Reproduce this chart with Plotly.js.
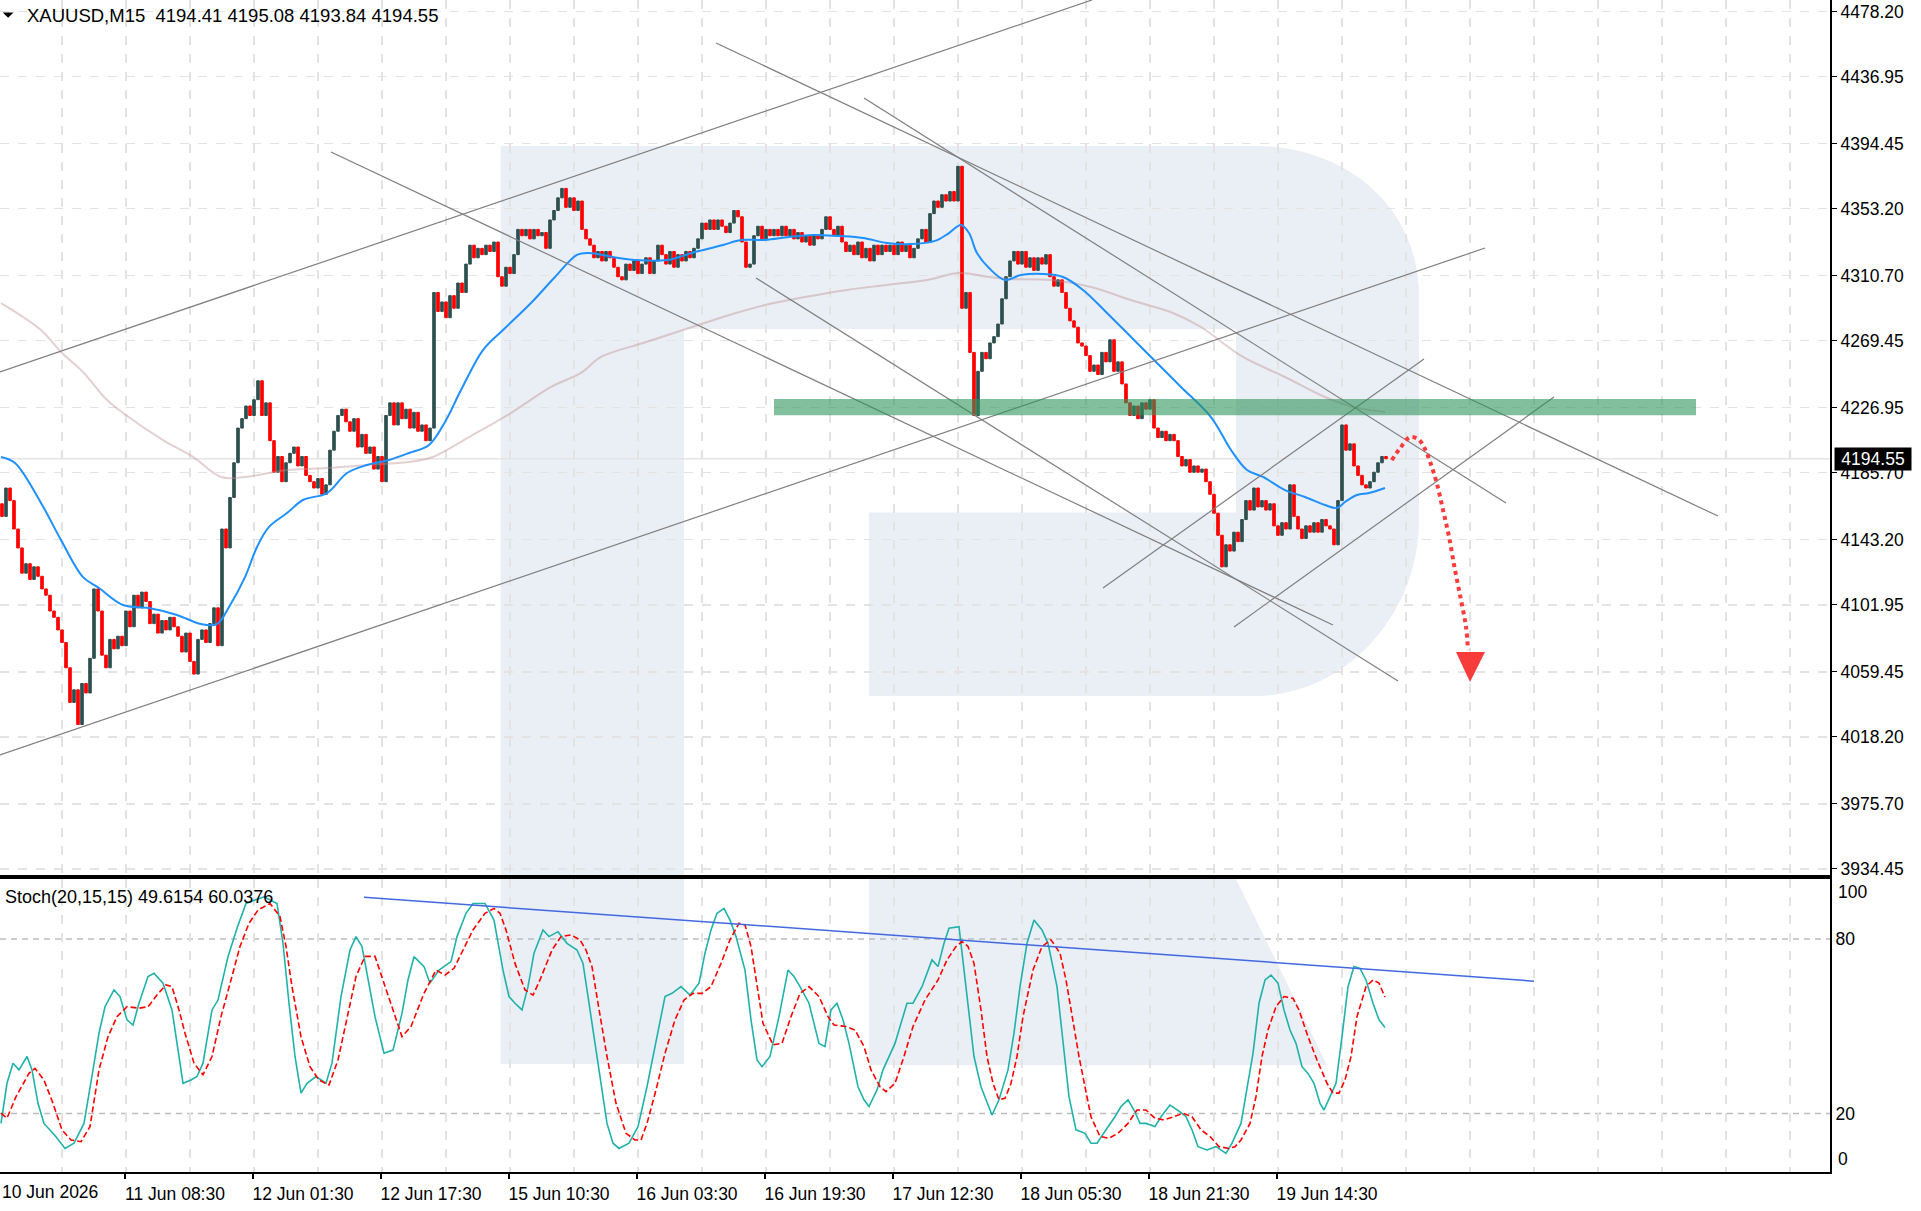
<!DOCTYPE html>
<html>
<head>
<meta charset="utf-8">
<script src="https://cdn.plot.ly/plotly-3.0.1.min.js"></script>
<style>
  html, body { margin: 0; padding: 0; background: #fff; overflow: hidden; }
  #chart { width: 1921px; height: 1211px; }
</style>
</head>
<body>
<div id="chart"></div>
<script>
/* XAUUSD M15 with a Stochastic pane, drawn the way the terminal shows it.
 * Every value below was read off the screenshot by eye; bars are counted in
 * 15-minute steps from the left edge (bar 0), each candle here covers 2 bars.
 */
(function () {
  "use strict";

  // ---- header / last values ----
  const SYMBOL = "XAUUSD,M15";
  const lastOHLC = [4194.41, 4195.08, 4193.84, 4194.55];
  const STOCH_NAME = "Stoch(20,15,15)";
  const stochLast = [49.6154, 60.0376];

  // ---- axes ----
  const priceTicks = [4478.20, 4436.95, 4394.45, 4353.20, 4310.70, 4269.45, 4226.95,
    4185.70, 4143.20, 4101.95, 4059.45, 4018.20, 3975.70, 3934.45];
  const FIRST_LABEL = "10 Jun 2026";
  const labelBars = [62, 126, 190, 254, 318, 382, 446, 510, 574, 638];
  const labelText = ["11 Jun 08:30", "12 Jun 01:30", "12 Jun 17:30", "15 Jun 10:30",
    "16 Jun 03:30", "16 Jun 19:30", "17 Jun 12:30", "18 Jun 05:30", "18 Jun 21:30",
    "19 Jun 14:30"];

  // ---- candles: closes, one per 2 bars; each open is the previous close ----
  const firstOpen = 4166;
  const closes = [
    4158, 4176, 4168, 4150, 4138, 4122, 4128, 4118, 4126, 4120,
    4112, 4108, 4098, 4094, 4086, 4078, 4062, 4040, 4048, 4026,
    4052, 4046, 4068, 4112, 4098, 4070, 4062, 4080, 4074, 4082,
    4076, 4098, 4088, 4108, 4100, 4110, 4104, 4090, 4096, 4084,
    4092, 4086, 4094, 4088, 4082, 4072, 4084, 4066, 4058, 4080,
    4086, 4078, 4090, 4100, 4076, 4150, 4138, 4170, 4192, 4214,
    4220, 4228, 4222, 4232, 4244, 4222, 4230, 4206, 4186, 4196,
    4180, 4192, 4198, 4202, 4190, 4196, 4184, 4180, 4176, 4182,
    4172, 4178, 4200, 4212, 4222, 4226, 4218, 4212, 4220, 4202,
    4210, 4198, 4202, 4188, 4196, 4180, 4222, 4230, 4216, 4230,
    4220, 4226, 4214, 4224, 4212, 4216, 4206, 4214, 4300, 4288,
    4294, 4284, 4298, 4290, 4306, 4300, 4318, 4330, 4322, 4328,
    4324, 4330, 4326, 4332, 4310, 4304, 4316, 4312, 4324, 4340,
    4336, 4340, 4334, 4340, 4336, 4338, 4328, 4346, 4352, 4360,
    4366, 4354, 4360, 4352, 4358, 4340, 4334, 4330, 4322, 4326,
    4320, 4326, 4322, 4316, 4310, 4308, 4318, 4314, 4320, 4312,
    4318, 4322, 4312, 4320, 4330, 4324, 4318, 4326, 4316, 4324,
    4320, 4326, 4322, 4328, 4334, 4344, 4340, 4346, 4340, 4346,
    4342, 4338, 4344, 4352, 4348, 4332, 4316, 4318, 4336, 4342,
    4334, 4340, 4336, 4340, 4336, 4342, 4336, 4340, 4334, 4338,
    4332, 4336, 4330, 4336, 4334, 4340, 4348, 4340, 4336, 4342,
    4332, 4326, 4330, 4324, 4332, 4322, 4328, 4320, 4330, 4324,
    4330, 4326, 4330, 4324, 4332, 4326, 4330, 4322, 4328, 4334,
    4340, 4332, 4350, 4358, 4354, 4362, 4358, 4364, 4358, 4380,
    4290, 4300, 4262, 4222, 4250, 4262, 4258, 4268, 4272, 4280,
    4296, 4310, 4320, 4326, 4318, 4326, 4316, 4322, 4314, 4322,
    4318, 4324, 4310, 4304, 4308, 4300, 4290, 4282, 4278, 4268,
    4266, 4260, 4250, 4254, 4248, 4262, 4256, 4270, 4250, 4256,
    4242, 4230, 4222, 4228, 4220, 4230, 4226, 4232, 4214, 4208,
    4212, 4206, 4210, 4206, 4196, 4190, 4194, 4186, 4190, 4186,
    4188, 4180, 4172, 4160, 4146, 4126, 4140, 4136, 4148, 4142,
    4156, 4168, 4162, 4176, 4164, 4168, 4162, 4166, 4152, 4146,
    4154, 4150, 4178, 4158, 4150, 4144, 4152, 4148, 4154, 4148,
    4156, 4152, 4150, 4140, 4168, 4216, 4200, 4204, 4190, 4184,
    4178, 4176, 4180, 4186, 4192, 4196, 4194.55
  ];

  // ---- moving averages ----
  const fastMaBars = [0, 7, 20, 30, 41, 49, 61, 74, 88, 100, 108, 114, 122, 128, 134, 143,
    151, 163, 173, 183, 194, 204, 214, 222, 230, 241, 251, 265, 277, 288, 294, 306, 317,
    333, 347, 361, 370, 382, 394, 406, 419, 431, 443, 455, 467, 474, 480, 484, 488, 494,
    502, 510, 521, 531, 541, 553, 565, 578, 590, 605, 615, 623, 631, 642, 652, 662, 668,
    672, 678, 684, 692];
  const fastMa = [4195.7, 4191.9, 4166.5, 4143.0, 4119.5, 4112.6, 4101.8, 4099.9, 4095.5,
    4089.7, 4089.7, 4100.5, 4119.5, 4138.6, 4151.3, 4160.1, 4168.4, 4172.8, 4185.5, 4190.6,
    4193.8, 4198.2, 4203.3, 4217.9, 4238.1, 4263.5, 4276.2, 4293.3, 4309.8, 4323.8, 4325.0,
    4322.5, 4320.6, 4320.6, 4325.7, 4330.1, 4333.3, 4333.3, 4335.2, 4336.5, 4335.8, 4334.6,
    4331.4, 4330.7, 4332.7, 4337.7, 4342.8, 4337.7, 4325.0, 4315.5, 4307.9, 4311.1, 4311.7,
    4309.8, 4301.6, 4287.0, 4271.8, 4255.3, 4240.1, 4221.0, 4200.1, 4187.4, 4183.0, 4174.7,
    4170.3, 4165.2, 4163.3, 4167.1, 4171.6, 4172.8, 4176.0];
  const slowMaBars = [0, 20, 30, 41, 53, 61, 81, 96, 110, 122, 143, 163, 183, 204, 216, 234,
    255, 275, 290, 300, 321, 341, 361, 382, 402, 423, 443, 463, 479, 494, 504, 525, 545,
    565, 586, 600, 607, 621, 642, 662, 676, 692];
  const slowMa = [4293.3, 4276.2, 4262.3, 4249.6, 4231.8, 4223.6, 4206.4, 4195.7, 4183.0,
    4183.0, 4187.4, 4188.7, 4190.6, 4192.5, 4195.7, 4208.3, 4223.6, 4240.1, 4249.0, 4259.1,
    4268.0, 4276.2, 4284.5, 4292.1, 4297.1, 4301.6, 4304.8, 4307.9, 4312.4, 4309.8, 4308.6,
    4307.9, 4303.5, 4295.2, 4287.0, 4278.1, 4271.8, 4259.1, 4246.4, 4233.7, 4227.4, 4224.2];

  // ---- drawn objects: [bar0, price0, bar1, price1] ----
  const trendLines = [
    [-0.5, 4249.6, 545.5, 4485.5],
    [-0.5, 4006.7, 742, 4328.2],
    [165, 4389.1, 666, 4089.1],
    [377.5, 4309.2, 698.5, 4053.6],
    [431.5, 4423.3, 752.5, 4166.5],
    [357.5, 4458.2, 858.5, 4158.2],
    [551, 4112.6, 711.5, 4257.8],
    [616.5, 4087.9, 776.5, 4233.7]
  ];
  const zoneBars = [386.5, 847.5];
  const zonePrices = [4222.2, 4232.4];
  const arrowBars = [695.4, 699.5, 704.5, 708.7, 711.8, 714.8, 717.9, 721, 724, 727, 730, 732.5, 733.5];
  const arrowPrices = [4193.7, 4201.2, 4208.2, 4206.9, 4201.2, 4191.7, 4179.0, 4162.1, 4145.1,
    4124.0, 4105.0, 4088.0, 4073.2];
  const headBars = [727.5, 742, 734.5];
  const headPrices = [4072.0, 4072.0, 4053.0];

  // ---- stochastic ----
  const kBars = [0, 3, 6, 9, 13, 15.5, 18.5, 21.5, 27.5, 32, 36.5, 41.5, 46, 49, 52, 56.5,
    59.5, 63, 66, 69, 73.5, 76.5, 81, 85.5, 89, 91, 95, 98, 101, 105.5, 108.5, 113.5, 118,
    122.5, 127, 131.5, 138, 141, 144, 147, 150, 153, 157.5, 162.5, 165.5, 170, 174.5, 177.5,
    180.5, 183.5, 187, 191.5, 196, 200.5, 203.5, 206.5, 211.5, 214.5, 219, 225, 228, 232.5,
    236, 242, 246.5, 251, 254, 257, 260.5, 263.5, 266.5, 271, 274, 278.5, 283, 288, 291,
    294, 297, 300, 303, 306, 309, 314, 318.5, 323, 327.5, 332, 335.5, 340, 344.5, 349, 352,
    355, 358, 361.5, 364.5, 367.5, 372, 375, 378, 380.5, 384.5, 389, 393.5, 396.5, 399.5,
    404, 409, 412, 415, 418, 421, 424, 428.5, 431.5, 434, 438, 441, 447, 450, 453, 456,
    460.5, 465.5, 468.5, 471.5, 474, 479, 480.5, 483.5, 486.5, 490, 493, 495.5, 499, 503.5,
    506.5, 509.5, 513, 516.5, 520.5, 523.5, 528, 531, 534, 537.5, 542, 545, 548, 552.5, 557,
    560, 563.5, 566.5, 569.5, 572.5, 577, 580, 584.5, 589.5, 592.5, 595.5, 598.5, 603,
    607.5, 612.5, 615.5, 620, 623, 626, 629, 632, 635, 638.5, 641.5, 644.5, 647.5, 650.5,
    653.5, 656.5, 659.5, 661.5, 664.5, 667.5, 670.5, 673.5, 676.5, 679.5, 682.5, 686, 689, 692];
  const kVals = [16.6, 30.4, 37.3, 35, 39.6, 35, 23.5, 16.6, 12, 8, 9.8, 16.6, 35, 47.6, 56.7,
    62.5, 60.2, 52.2, 50.4, 57.9, 67.1, 68.2, 64.8, 55.6, 39.6, 30.4, 31.5, 32.7, 37.3, 55.6,
    59, 73.9, 83.7, 92.2, 93.4, 94.5, 92.2, 78.5, 57.9, 39.6, 27, 30.4, 32.7, 30.4, 37.3,
    60.2, 76.2, 80.8, 77.4, 65.9, 53.3, 40.7, 41.8, 54.4, 65.9, 73.9, 70.5, 64.8, 69.3, 72.2,
    80.8, 88.8, 92.2, 92.2, 86.5, 69.3, 60.2, 57.9, 55.6, 63.6, 75.1, 83.1, 80.8, 82.5, 78.5,
    76.2, 71.6, 57.9, 44.1, 29.2, 16.6, 9.8, 8, 9.8, 15.5, 29.2, 44.1, 60.2, 61.3, 63.6, 60.7,
    64.8, 75.1, 83.1, 88.8, 90.5, 86.5, 80.8, 69.3, 52.2, 38.4, 36.1, 39.6, 53.3, 69.3, 67.1,
    63.6, 57.9, 44.1, 43, 55.6, 57.9, 52.2, 44.1, 29.2, 24.7, 22.4, 28.1, 35, 44.1, 51, 57.9,
    57.9, 63.6, 72.8, 70.5, 78.5, 83.7, 84.2, 75.1, 57.9, 39.6, 29.2, 23.5, 19.5, 24.7, 35,
    47.6, 63.6, 78.5, 86.5, 83.1, 78.5, 63.6, 44.1, 25.8, 14.4, 13.2, 9.8, 9.8, 14.4, 18.9,
    22.4, 24.7, 21.2, 16.6, 16.6, 15.5, 18.9, 22.9, 20.6, 18.9, 14.4, 8.6, 7.5, 8.6, 6.3,
    9.8, 16.6, 29.2, 40.7, 57.9, 65.9, 67.6, 64.8, 55.6, 48.7, 44.1, 36.1, 33.8, 30.4, 23.5,
    21.2, 25.8, 30.4, 46.4, 63.6, 70.5, 69.9, 65.9, 57.9, 52.2, 49.6];
  const dBars = [0, 3, 7.5, 14, 17, 21.5, 26, 30.5, 35, 40, 44.5, 49, 53.5, 58, 63, 69, 73.5,
    78, 82.5, 85.5, 89, 92, 96.5, 101, 105.5, 110, 115, 119.5, 124, 128.5, 134.5, 139.5,
    142.5, 145.5, 150, 154.5, 159, 164, 168.5, 173, 177.5, 182, 187, 191.5, 196, 200.5, 205,
    211.5, 217.5, 222, 226.5, 231, 236, 242, 246.5, 249.5, 252.5, 257, 262, 266, 269.5,
    275.5, 280, 285, 289.5, 292.5, 295.5, 298.5, 303, 307.5, 312.5, 317, 320, 323, 327.5,
    332, 337, 341.5, 346, 350.5, 355, 360, 364.5, 369, 372, 375, 378, 381, 386, 390.5, 395,
    399.5, 404, 409, 413.5, 416.5, 422.5, 427, 431.5, 435, 439.5, 442.5, 447, 451.5, 456,
    462, 468.5, 473, 477.5, 480.5, 483.5, 486.5, 490, 493, 496, 499, 502, 505, 508, 511, 516,
    520.5, 525, 529.5, 532.5, 535.5, 539, 542, 545, 549.5, 554, 558.5, 563.5, 568, 572.5,
    577, 581.5, 586.5, 591, 595.5, 600, 604.5, 609, 614, 617, 620, 624.5, 627.5, 630.5,
    633.5, 637.5, 641.5, 646, 649, 653.5, 658, 663, 666, 669, 672, 675, 678, 682.5, 686,
    689, 692];
  const dVals = [20.1, 18.4, 25.8, 33.8, 35.5, 31.5, 23.5, 14.4, 10.9, 10.3, 15.5, 35, 46.4,
    53.3, 56.7, 56.2, 56.7, 60.7, 64.2, 63.6, 55.6, 47.6, 37.3, 33.3, 39.6, 53.3, 65.9, 77.4,
    85.4, 89.9, 92.2, 87.7, 77.4, 63.6, 46.4, 36.1, 31.5, 29.8, 38.4, 53.3, 67.1, 74, 74,
    64.8, 55.6, 46.4, 49.9, 61.3, 69.3, 67.6, 69.9, 76.2, 83.1, 88.8, 90.5, 88.8, 83.1, 71.6,
    62.5, 60.7, 65.9, 76.2, 80.8, 81.4, 79.7, 76.2, 70.5, 57.9, 39.6, 23.5, 13.2, 10.9, 10.9,
    16.6, 28.1, 40.7, 52.2, 59, 61.3, 61.3, 63.6, 71.6, 79.7, 85.4, 84.8, 77.4, 64.8, 51,
    43.6, 44.1, 53.3, 61.3, 63.6, 60.2, 53.3, 50.4, 49.9, 48.7, 43, 35, 29.2, 27.5, 30.4,
    39.6, 49.9, 59, 65.9, 72.8, 77.4, 79.1, 77.4, 71.6, 55.6, 39.6, 30.4, 24.7, 25.2, 30.4,
    39.6, 53.3, 69.3, 77.4, 79.7, 75.1, 65.9, 53.3, 39.6, 29.2, 18.9, 12.1, 11.5, 13.2, 16.6,
    21.2, 21.2, 18.4, 17.8, 18.9, 20.1, 18.9, 14.4, 12.1, 8.6, 8, 8.6, 10.9, 16.6, 25.8,
    39.6, 48.7, 56.7, 60.2, 59.6, 55.6, 46.4, 38.4, 30.4, 27, 27, 31.5, 39.6, 53.3, 63.6,
    65.9, 64.8, 60.0];
  const stochLevels = [20, 80];
  const stochTrend = [181.5, 94.3, 766.5, 65.5];

  // ---- page geometry (pixels of the 1921x1211 shot) ----
  const W = 1921, H = 1211;
  const PLOT_R = 1830, PLOT_B = 1172;
  const MAIN_BOTTOM = 874.7, SUB_TOP = 879;
  const X_RANGE = [-0.5, 914.5];
  const Y_RANGE = [3930.76, 4485.49];
  const K_RANGE = [-0.1, 100.6];

  const px = (x) => x / PLOT_R;
  const py = (y) => (PLOT_B - y) / PLOT_B;

  const BULL = "#2F4F4F";
  const BEAR = "#FF0000";
  const GRID = "#e3e3e3";
  const WATERMARK = "#EAEEF5";
  const TREND = "#7f7f7f";
  const FONT = { family: "Liberation Sans, Arial, sans-serif", size: 17.5, color: "#000" };

  // paper-space path from pixel points
  function path(cmds) {
    return cmds.map(function (c) {
      const pts = [];
      for (let i = 1; i < c.length; i += 2) {
        pts.push(px(c[i]).toFixed(5) + "," + py(c[i + 1]).toFixed(5));
      }
      return c[0] + pts.join(" ");
    }).join(" ") + " Z";
  }

  // ---- traces ----
  const candleBars = closes.map((_, i) => 2 * i + 0.5);
  const opens = [firstOpen].concat(closes.slice(0, -1));
  const highs = closes.map((c, i) => Math.max(c, opens[i]));
  const lows = closes.map((c, i) => Math.min(c, opens[i]));

  const traces = [];

  traces.push({
    type: "candlestick", xaxis: "x", yaxis: "y",
    x: candleBars, open: opens, high: highs, low: lows, close: closes,
    increasing: { line: { color: BULL, width: 1 }, fillcolor: BULL },
    decreasing: { line: { color: BEAR, width: 1 }, fillcolor: BEAR },
    whiskerwidth: 0, hoverinfo: "skip", showlegend: false,
  });

  traces.push({
    type: "scatter", mode: "lines", x: slowMaBars, y: slowMa, xaxis: "x", yaxis: "y",
    line: { color: "rgba(188,143,143,0.42)", width: 2, shape: "spline" }, hoverinfo: "skip",
  });
  traces.push({
    type: "scatter", mode: "lines", x: fastMaBars, y: fastMa, xaxis: "x", yaxis: "y",
    line: { color: "#1E90FF", width: 2, shape: "spline" }, hoverinfo: "skip",
  });

  trendLines.forEach(function (t) {
    traces.push({
      type: "scatter", mode: "lines", x: [t[0], t[2]], y: [t[1], t[3]],
      xaxis: "x", yaxis: "y", line: { color: TREND, width: 1.2 }, hoverinfo: "skip",
    });
  });

  // forecast arrow
  traces.push({
    type: "scatter", mode: "lines", x: arrowBars, y: arrowPrices, xaxis: "x", yaxis: "y",
    line: { color: "#F83C3C", width: 4, dash: "4px,4px", shape: "spline" }, hoverinfo: "skip",
  });
  traces.push({
    type: "scatter", mode: "lines", x: headBars, y: headPrices, xaxis: "x", yaxis: "y",
    fill: "toself", fillcolor: "#F83C3C", line: { width: 0, color: "#F83C3C" }, hoverinfo: "skip",
  });

  // stochastic pane
  traces.push({
    type: "scatter", mode: "lines", x: kBars, y: kVals, xaxis: "x2", yaxis: "y2",
    line: { color: "#20B2AA", width: 1.6 }, hoverinfo: "skip",
  });
  traces.push({
    type: "scatter", mode: "lines", x: dBars, y: dVals, xaxis: "x2", yaxis: "y2",
    line: { color: "#FF0000", width: 1.6, dash: "6px,3px" }, hoverinfo: "skip",
  });
  traces.push({
    type: "scatter", mode: "lines", x: [stochTrend[0], stochTrend[2]], y: [stochTrend[1], stochTrend[3]],
    xaxis: "x2", yaxis: "y2", line: { color: "#4169E1", width: 1.5 }, hoverinfo: "skip",
  });

  // ---- shapes ----
  const shapes = [
    // watermark "R": stem, bowl, leg
    { type: "rect", xref: "paper", yref: "paper", x0: px(500.6), x1: px(684), y0: py(1064), y1: py(146),
      fillcolor: WATERMARK, line: { width: 0 }, layer: "below" },
    { type: "path", xref: "paper", yref: "paper", layer: "below", fillcolor: WATERMARK, line: { width: 0 },
      path: path([["M", 684, 146], ["L", 1255, 146], ["C", 1345, 146, 1419, 206, 1419, 296],
        ["L", 1419, 520], ["C", 1419, 615, 1345, 696, 1255, 696], ["L", 869, 696],
        ["L", 869, 512.5], ["L", 1236, 512.5], ["L", 1236, 329], ["L", 684, 329]]) },
    { type: "path", xref: "paper", yref: "paper", layer: "below", fillcolor: WATERMARK, line: { width: 0 },
      path: path([["M", 869, 879], ["L", 1236, 879], ["L", 1327, 1065], ["L", 869, 1065]]) },
    // bid line
    { type: "line", xref: "paper", yref: "y", x0: 0, x1: 1, y0: lastOHLC[3], y1: lastOHLC[3],
      line: { color: "#e4e4e4", width: 1.5 }, layer: "below" },
    // resistance zone
    { type: "rect", xref: "x", yref: "y", x0: zoneBars[0], x1: zoneBars[1], y0: zonePrices[0], y1: zonePrices[1],
      fillcolor: "rgba(46,148,92,0.6)", line: { width: 0 }, layer: "above" },
    // the little drop-down marker before the symbol name
    { type: "path", xref: "paper", yref: "paper", layer: "above", fillcolor: "#000", line: { width: 0 },
      path: path([["M", 2.7, 12.5], ["L", 13.6, 12.5], ["L", 8.1, 17.8]]) },
  ];
  stochLevels.forEach(function (lv) {
    shapes.push({ type: "line", xref: "paper", yref: "y2", x0: 0, x1: 1, y0: lv, y1: lv,
      line: { color: "#bdbdbd", width: 1.6, dash: "6px,5px" }, layer: "below" });
  });

  // ---- annotations ----
  const nb = "\u00a0";
  const annotations = [
    { xref: "paper", yref: "paper", x: px(25), y: py(15.5), xanchor: "left", yanchor: "middle",
      text: SYMBOL + nb + nb + lastOHLC.map((v) => v.toFixed(2)).join(nb), showarrow: false,
      font: Object.assign({}, FONT, { size: 18.5 }) },
    { xref: "paper", yref: "paper", x: px(3), y: py(897), xanchor: "left", yanchor: "middle",
      text: STOCH_NAME + nb + stochLast.map((v) => v.toFixed(4)).join(nb), showarrow: false,
      font: Object.assign({}, FONT, { size: 18 }) },
    { xref: "paper", yref: "paper", x: 0, y: py(1192), xanchor: "left", yanchor: "middle",
      text: FIRST_LABEL, showarrow: false, font: FONT },
    { xref: "paper", yref: "paper", x: 1, xshift: 6, y: py(892), xanchor: "left", yanchor: "middle",
      text: "100", showarrow: false, font: FONT },
    { xref: "paper", yref: "paper", x: 1, xshift: 6, y: py(1159), xanchor: "left", yanchor: "middle",
      text: "0", showarrow: false, font: FONT },
    // bid price box, it sits over the 4185.70 label just as the terminal draws it
    { xref: "paper", yref: "y", x: 1, xshift: 4, y: lastOHLC[3], xanchor: "left", yanchor: "middle",
      text: lastOHLC[3].toFixed(2), showarrow: false, bgcolor: "#000", borderpad: 2,
      width: 72, height: 18, font: Object.assign({}, FONT, { color: "#fff" }) },
  ];

  // ---- axes ----
  const minorGrid = { tickmode: "linear", tick0: 30.5, dtick: 32, showgrid: true,
    gridcolor: GRID, griddash: "dash", gridwidth: 1.5, ticks: "" };
  const xBase = { range: X_RANGE, showgrid: false, zeroline: false, fixedrange: true,
    showline: true, linecolor: "#000", linewidth: 2, minor: minorGrid };

  const layout = {
    width: W, height: H, autosize: false,
    margin: { l: 0, r: W - PLOT_R, t: 0, b: H - PLOT_B, pad: 0 },
    paper_bgcolor: "#fff", plot_bgcolor: "rgba(0,0,0,0)",
    showlegend: false, hovermode: false, font: FONT,
    boxgap: 0.08,
    xaxis: Object.assign({}, xBase, { anchor: "y", showticklabels: false, ticks: "",
      tickmode: "array", tickvals: labelBars, rangeslider: { visible: false } }),
    xaxis2: Object.assign({}, xBase, { anchor: "y2", mirror: true, tickmode: "array",
      tickvals: labelBars, ticktext: labelText, ticks: "outside", ticklen: 5, tickwidth: 2,
      tickcolor: "#000", tickfont: FONT, ticklabelshift: 50 }),
    yaxis: { domain: [py(MAIN_BOTTOM), 1], range: Y_RANGE, side: "right", anchor: "x",
      tickmode: "array", tickvals: priceTicks, ticktext: priceTicks.map((v) => v.toFixed(2)),
      showgrid: true, gridcolor: GRID, griddash: "dash", gridwidth: 1.5, zeroline: false,
      showline: true, linecolor: "#000", linewidth: 2, ticks: "outside", ticklen: 5,
      tickcolor: "#000", tickfont: FONT, fixedrange: true },
    yaxis2: { domain: [0, py(SUB_TOP)], range: K_RANGE, side: "right", anchor: "x2",
      tickmode: "array", tickvals: stochLevels, ticktext: stochLevels.map(String),
      showgrid: false, zeroline: false, showline: true, linecolor: "#000", linewidth: 2,
      ticks: "", tickfont: FONT, fixedrange: true },
    shapes: shapes,
    annotations: annotations,
  };

  Plotly.newPlot("chart", traces, layout, { displayModeBar: false, staticPlot: true });
})();
</script>
</body>
</html>
